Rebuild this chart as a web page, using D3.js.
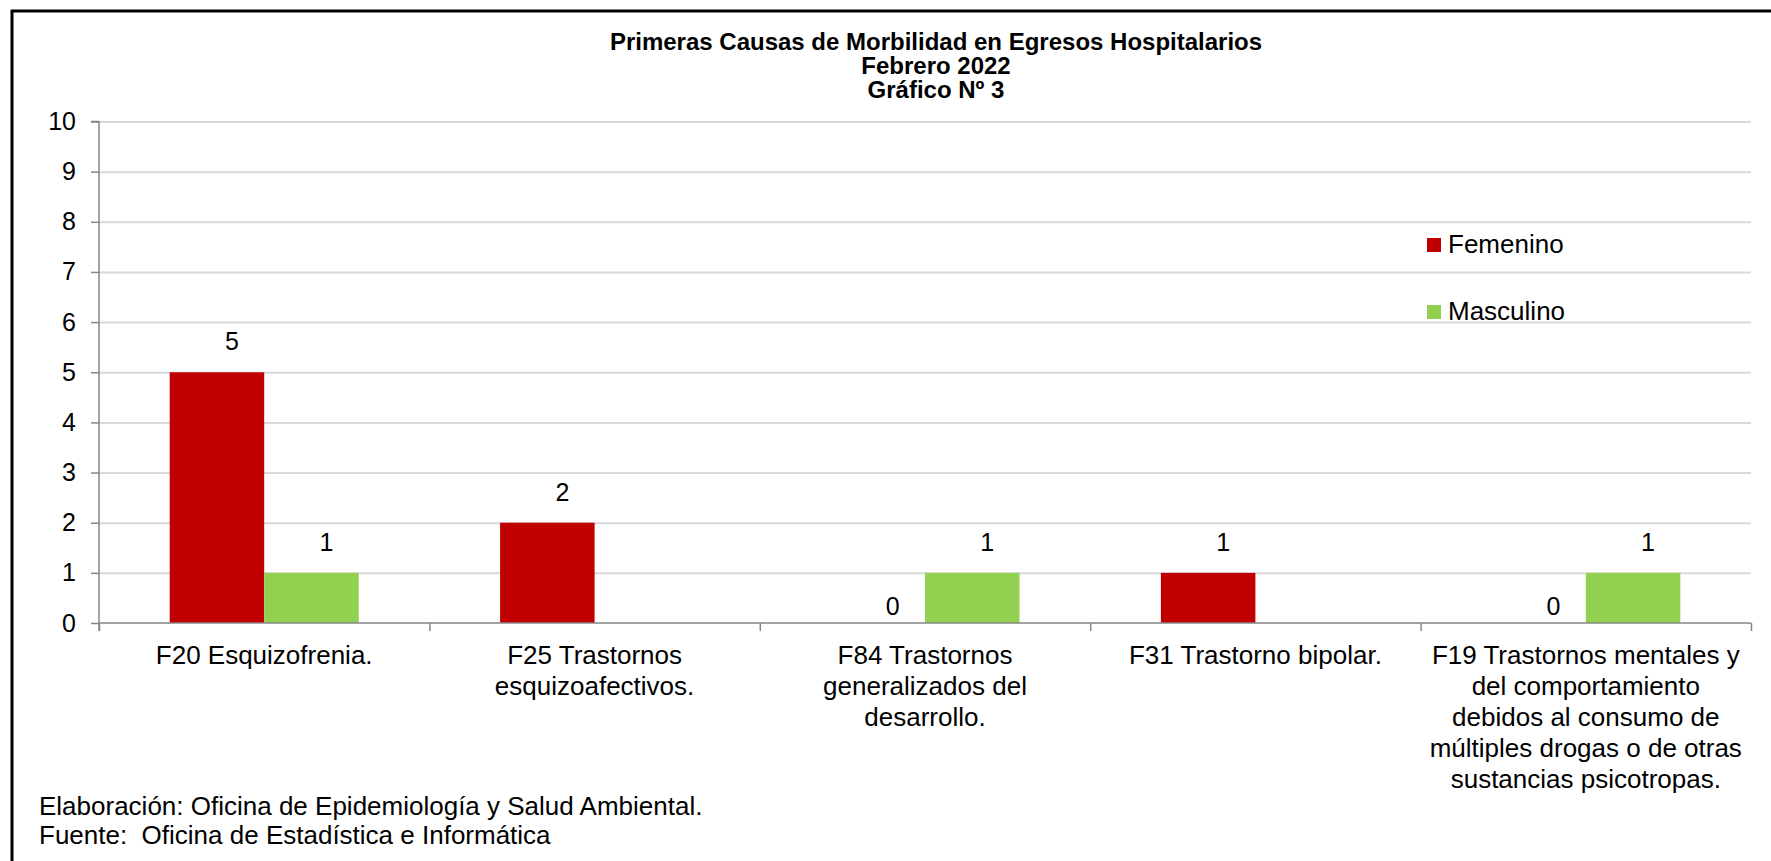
<!DOCTYPE html>
<html>
<head>
<meta charset="utf-8">
<script src="https://cdn.jsdelivr.net/npm/d3@7"></script>
<style>
  html, body { margin: 0; padding: 0; background: #fff; }
  svg { display: block; font-family: "Liberation Sans", Arial, sans-serif; }
</style>
</head>
<body>
<svg id="chart" width="1771" height="861"></svg>
<script>
// ---- data ----
const categories = [
  ["F20 Esquizofrenia."],
  ["F25 Trastornos", "esquizoafectivos."],
  ["F84 Trastornos", "generalizados del", "desarrollo."],
  ["F31 Trastorno bipolar."],
  ["F19 Trastornos mentales y", "del comportamiento", "debidos al consumo de", "múltiples drogas o de otras", "sustancias psicotropas."]
];
const seriesNames = ["Femenino", "Masculino"];
const femenino = [5, 2, 0, 1, 0];
const masculino = [1, null, 1, null, 1];
const seriesColors = ["#C00000", "#92D050"];
const yTicks = [0, 1, 2, 3, 4, 5, 6, 7, 8, 9, 10];
const titleLines = ["Primeras Causas de Morbilidad en Egresos Hospitalarios", "Febrero 2022", "Gráfico Nº 3"];
const footerLines = ["Elaboración: Oficina de Epidemiología y Salud Ambiental.", "Fuente:  Oficina de Estadística e Informática"];

// ---- layout ----
const svg = d3.select("#chart");
const plot = { left: 99, right: 1751, top: 121.5, bottom: 623 };
const fontMain = 26;

// outer frame (only top & left visible within the picture)
svg.append("rect")
  .attr("x", 12).attr("y", 11)
  .attr("width", 1800).attr("height", 900)
  .attr("fill", "none").attr("stroke", "#000").attr("stroke-width", 3);

// title
svg.append("g").selectAll("text").data(titleLines).join("text")
  .attr("x", 936).attr("y", (d, i) => 50 + i * 24)
  .attr("text-anchor", "middle")
  .attr("font-weight", "bold").attr("font-size", 24)
  .attr("fill", "#000")
  .text(d => d);

const y = d3.scaleLinear().domain([0, 10]).range([plot.bottom, plot.top]);
const x0 = d3.scaleBand().domain(d3.range(categories.length)).range([plot.left, plot.right]).paddingInner(0).paddingOuter(0);
const x1 = d3.scaleBand().domain(seriesNames).range([0, x0.bandwidth()]).paddingInner(0).paddingOuter(0.748);
const xIdx = d3.scaleLinear().domain([0, categories.length]).range([plot.left, plot.right]);

// gridlines
svg.append("g")
  .attr("transform", `translate(${plot.left},0)`)
  .call(d3.axisLeft(y).tickValues(yTicks.filter(t => t > 0)).tickSize(-(plot.right - plot.left)).tickFormat(""))
  .call(g => g.select(".domain").remove())
  .call(g => g.selectAll("line").attr("stroke", "#d9d9d9").attr("stroke-width", 2));

// y axis
svg.append("g")
  .attr("transform", `translate(${plot.left},0)`)
  .call(d3.axisLeft(y).tickValues(yTicks).tickSize(8).tickPadding(15).tickFormat(d3.format("d")))
  .call(g => g.select(".domain").attr("stroke", "#868686").attr("stroke-width", 1.5).attr("d", `M-8,${plot.top}H0V${plot.bottom + 8}`))
  .call(g => g.selectAll("line").attr("stroke", "#868686").attr("stroke-width", 1.5))
  .call(g => g.selectAll("text").attr("font-size", 25).attr("fill", "#000").attr("font-family", "Liberation Sans, Arial, sans-serif"));

// bars
const seriesData = [femenino, masculino];
const barG = svg.append("g");
seriesData.forEach((vals, si) => {
  barG.append("g").selectAll("rect")
    .data(vals.map((v, i) => ({ v, i })).filter(d => d.v !== null && d.v > 0))
    .join("rect")
    .attr("x", d => x0(d.i) + x1(seriesNames[si]))
    .attr("width", x1.bandwidth())
    .attr("y", d => y(d.v))
    .attr("height", d => y(0) - y(d.v))
    .attr("fill", seriesColors[si]);
});

// x axis
svg.append("g")
  .attr("transform", `translate(0,${plot.bottom})`)
  .call(d3.axisBottom(xIdx).tickValues(d3.range(categories.length + 1)).tickSize(8).tickFormat(""))
  .call(g => g.select(".domain").attr("stroke", "#868686").attr("stroke-width", 1.5).attr("d", `M${plot.left},0H${plot.right}`))
  .call(g => g.selectAll("line").attr("stroke", "#868686").attr("stroke-width", 1.5));

// data labels
seriesData.forEach((vals, si) => {
  svg.append("g").selectAll("text")
    .data(vals.map((v, i) => ({ v, i })).filter(d => d.v !== null))
    .join("text")
    .attr("x", d => x0(d.i) + x1(seriesNames[si]) + x1.bandwidth() / 2 + 15)
    .attr("y", d => y(d.v) - (d.v > 0 ? 22 : 8))
    .attr("text-anchor", "middle")
    .attr("font-size", 25).attr("fill", "#000")
    .text(d => d.v);
});

// category labels
const catG = svg.append("g");
categories.forEach((lines, i) => {
  const t = catG.append("text")
    .attr("x", x0(i) + x0.bandwidth() / 2)
    .attr("y", 664)
    .attr("text-anchor", "middle")
    .attr("font-size", fontMain).attr("fill", "#000");
  lines.forEach((ln, j) => {
    t.append("tspan").attr("x", x0(i) + x0.bandwidth() / 2).attr("y", 664 + j * 31).text(ln);
  });
});

// legend
const legend = svg.append("g").attr("transform", "translate(1427,238)");
seriesNames.forEach((name, i) => {
  const g = legend.append("g").attr("transform", `translate(0,${i * 67})`);
  g.append("rect").attr("width", 14).attr("height", 14).attr("fill", seriesColors[i]);
  g.append("text").attr("x", 21).attr("y", 15).attr("font-size", fontMain).attr("fill", "#000").text(name);
});

// footer
svg.append("g").selectAll("text").data(footerLines).join("text")
  .attr("x", 39).attr("y", (d, i) => 815 + i * 29)
  .attr("font-size", fontMain).attr("fill", "#000")
  .attr("xml:space", "preserve")
  .style("white-space", "pre")
  .text(d => d);
</script>
</body>
</html>
